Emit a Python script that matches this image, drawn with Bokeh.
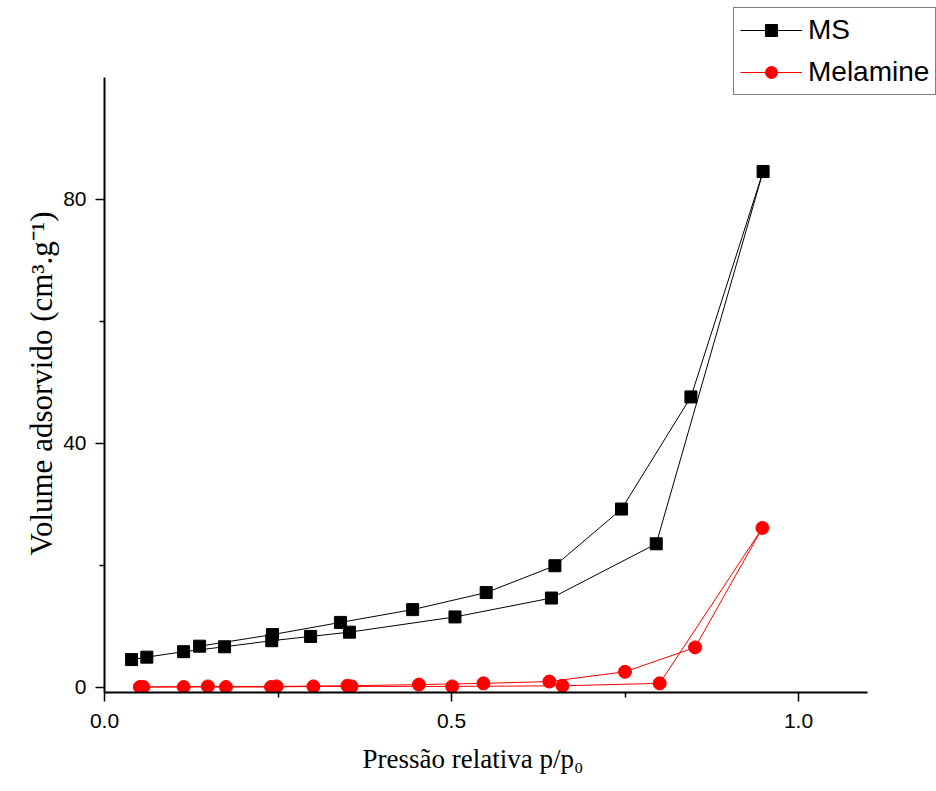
from bokeh.plotting import figure
from bokeh.models import (ColumnDataSource, FixedTicker, Legend, LegendItem,
                          Range1d, Title)
from bokeh.embed import file_html
from bokeh.resources import INLINE

# ---- data ----
ms_x = [0.039, 0.061, 0.114, 0.173, 0.241, 0.297, 0.353, 0.505, 0.644, 0.795,
        0.949, 0.845, 0.745, 0.649, 0.550, 0.444, 0.340, 0.242, 0.137]
ms_y = [4.5, 4.9, 5.8, 6.6, 7.6, 8.3, 9.0, 11.5, 14.6, 23.5,
        84.6, 47.6, 29.2, 19.9, 15.5, 12.7, 10.6, 8.6, 6.7]

mel_x = [0.051, 0.114, 0.175, 0.240, 0.301, 0.356, 0.501, 0.660, 0.800, 0.948,
         0.851, 0.750, 0.641, 0.546, 0.453, 0.350, 0.248, 0.149, 0.056]
mel_y = [0.0, 0.0, 0.0, 0.0, 0.1, 0.1, 0.1, 0.2, 0.6, 26.1,
         6.5, 2.5, 0.9, 0.6, 0.4, 0.2, 0.1, 0.1, 0.0]

x_ticks = [0.0, 0.5, 1.0]
x_minor = [0.25, 0.75]
y_ticks = [0, 40, 80]
y_minor = [20, 60]

series_names = ["MS", "Melamine"]
x_label = "Pressão relativa p/p₀"
y_label = "Volume adsorvido (cm³.g⁻¹)"

# visible axis extents
x_bounds = (0.0, 1.1)
y_bounds = (-0.9, 100)

# frame geometry (pixels) – frame extends to canvas top/right so the legend
# can sit above the axes as in the reference
W, H = 936, 791
left, bottom = 104, 99
frame_w, frame_h = W - left, H - bottom
x_px_per_unit = 694.0
y_px_per_unit = 6.094

p = figure(width=W, height=H, output_backend="svg", toolbar_location=None,
           x_range=Range1d(x_bounds[0], x_bounds[0] + frame_w / x_px_per_unit),
           y_range=Range1d(y_bounds[0], y_bounds[0] + frame_h / y_px_per_unit),
           min_border_left=left, min_border_right=0, min_border_top=0,
           min_border_bottom=bottom)
p.outline_line_color = None
p.xgrid.visible = False
p.ygrid.visible = False
p.background_fill_color = "white"
p.border_fill_color = "white"

src_ms = ColumnDataSource(dict(x=ms_x, y=ms_y))
src_mel = ColumnDataSource(dict(x=mel_x, y=mel_y))

l1 = p.line("x", "y", source=src_ms, line_color="black", line_width=1)
s1 = p.scatter("x", "y", source=src_ms, marker="square", size=12,
               fill_color="black", line_color="black")
l2 = p.line("x", "y", source=src_mel, line_color="#ff0000", line_width=1)
s2 = p.scatter("x", "y", source=src_mel, marker="circle", size=13,
               fill_color="#ff0000", line_color="#ff0000")

# axes
p.xaxis.ticker = FixedTicker(ticks=x_ticks, minor_ticks=x_minor)
p.yaxis.ticker = FixedTicker(ticks=y_ticks, minor_ticks=y_minor)
p.xaxis.major_label_overrides = {t: f"{t:.1f}" for t in x_ticks}
p.yaxis.major_label_overrides = {t: str(t) for t in y_ticks}
p.xaxis.bounds = x_bounds
p.yaxis.bounds = y_bounds

for ax in (p.xaxis, p.yaxis):
    ax.axis_line_width = 2
    ax.axis_line_color = "black"
    ax.major_tick_line_color = "black"
    ax.minor_tick_line_color = "black"
    ax.major_tick_line_width = 1.5
    ax.minor_tick_line_width = 1.5
    ax.major_tick_in = 0
    ax.major_tick_out = 9
    ax.minor_tick_in = 0
    ax.minor_tick_out = 5
    ax.major_label_text_font = "Liberation Sans"
    ax.major_label_text_font_size = "21px"
    ax.major_label_text_color = "black"
    ax.major_label_standoff = 9
p.xaxis.major_label_standoff = 12

# axis titles placed as panel titles so they centre on the visible axes
xt = Title(text=x_label, align="left", offset=258, vertical_align="bottom",
           standoff=22, text_font="Liberation Serif", text_font_size="27px",
           text_font_style="normal", text_color="black")
p.add_layout(xt, "below")
yt = Title(text=y_label, align="left", offset=137, standoff=4,
           text_font="Liberation Serif", text_font_size="31px",
           text_font_style="normal", text_color="black")
p.add_layout(yt, "left")

legend = Legend(items=[LegendItem(label=series_names[0], renderers=[l1, s1]),
                       LegendItem(label=series_names[1], renderers=[l2, s2])],
                location=(629, 597))
legend.label_text_font = "Liberation Sans"
legend.label_text_font_size = "28px"
legend.label_text_color = "black"
legend.glyph_width = 62
legend.glyph_height = 30
legend.label_height = 30
legend.label_standoff = 6
legend.spacing = 10
legend.padding = 6
legend.margin = 0
legend.border_line_color = "black"
legend.border_line_width = 1
legend.background_fill_color = "white"
legend.background_fill_alpha = 1
p.add_layout(legend, "center")

open("out.html", "w").write(file_html(p, INLINE))
